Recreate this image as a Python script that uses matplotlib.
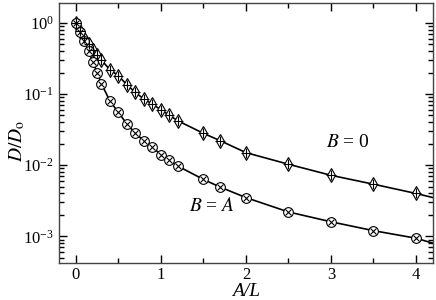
import matplotlib
matplotlib.use("Agg")
import matplotlib.pyplot as plt
from matplotlib.ticker import LogLocator, MultipleLocator, NullFormatter

plt.rcParams['font.family'] = ['Liberation Serif', 'DejaVu Serif']
plt.rcParams['mathtext.fontset'] = 'stix'

x_pts = [0, 0.05, 0.1, 0.15, 0.2, 0.25, 0.3, 0.4, 0.5, 0.6, 0.7, 0.8, 0.9,
         1.0, 1.1, 1.2, 1.5, 1.7, 2.0, 2.5, 3.0, 3.5, 4.0]
b0_pts = [1.0, 0.78, 0.62, 0.50, 0.42, 0.35, 0.30, 0.22, 0.18, 0.135, 0.105,
          0.085, 0.072, 0.060, 0.050, 0.042, 0.028, 0.022, 0.015, 0.0103,
          0.0072, 0.0054, 0.0040]
ba_pts = [1.0, 0.74, 0.55, 0.40, 0.28, 0.20, 0.14, 0.08, 0.055, 0.038, 0.028,
          0.022, 0.018, 0.014, 0.0117, 0.0097, 0.0063, 0.0049, 0.0035, 0.0022,
          0.0016, 0.0012, 0.00094]

# curve end values at the right edge
x_end = 4.2
b0_end = 0.0035
ba_end = 0.00080

fig = plt.figure(figsize=(4.36, 3.0), dpi=100)
ax = fig.add_axes([0.135, 0.123, 0.858, 0.867])

for ys, yend in [(b0_pts, b0_end), (ba_pts, ba_end)]:
    ax.plot(x_pts + [x_end], ys + [yend], color='black', lw=1.2, zorder=2)

# B = 0 : diamond with plus
ax.plot(x_pts, b0_pts, ls='none', marker='d', ms=7.5, mfc='white', mec='black',
        mew=0.8, zorder=3)
ax.plot(x_pts, b0_pts, ls='none', marker='+', ms=6.5, mec='black', mew=0.8, zorder=4)
# B = A : circle with cross
ax.plot(x_pts, ba_pts, ls='none', marker='o', ms=7, mfc='white', mec='black',
        mew=0.8, zorder=3)
ax.plot(x_pts, ba_pts, ls='none', marker='x', ms=4.5, mec='black', mew=0.8, zorder=4)

ax.set_yscale('log')
ax.set_xlim(-0.2, 4.2)
ax.set_ylim(4.2e-4, 1.9)

ax.xaxis.set_major_locator(MultipleLocator(1))
ax.xaxis.set_minor_locator(MultipleLocator(0.5))
ax.yaxis.set_major_locator(LogLocator(base=10, numticks=10))
ax.yaxis.set_minor_locator(LogLocator(base=10, subs=range(2, 10), numticks=10))
ax.yaxis.set_minor_formatter(NullFormatter())

ax.tick_params(which='both', direction='in', top=True, right=True, labelsize=12)
ax.tick_params(axis='x', pad=3)
ax.tick_params(which='major', length=6, width=1)
ax.tick_params(which='minor', length=3.5, width=1)
for sp in ax.spines.values():
    sp.set_linewidth(1)
    sp.set_color('#444444')

ax.set_xlabel('A/L', fontsize=14, fontstyle='italic')
ax.set_ylabel('$D/D_\\mathrm{o}$', fontsize=14)
ax.xaxis.set_label_coords(0.5, -0.075)
ax.yaxis.set_label_coords(-0.085, 0.47)

ax.text(3.2, 0.021, '$B$ = 0', fontsize=14, ha='center', va='center')
ax.text(1.6, 0.0027, '$B$ = $A$', fontsize=14, ha='center', va='center')

fig.savefig('out.png', dpi=100)
